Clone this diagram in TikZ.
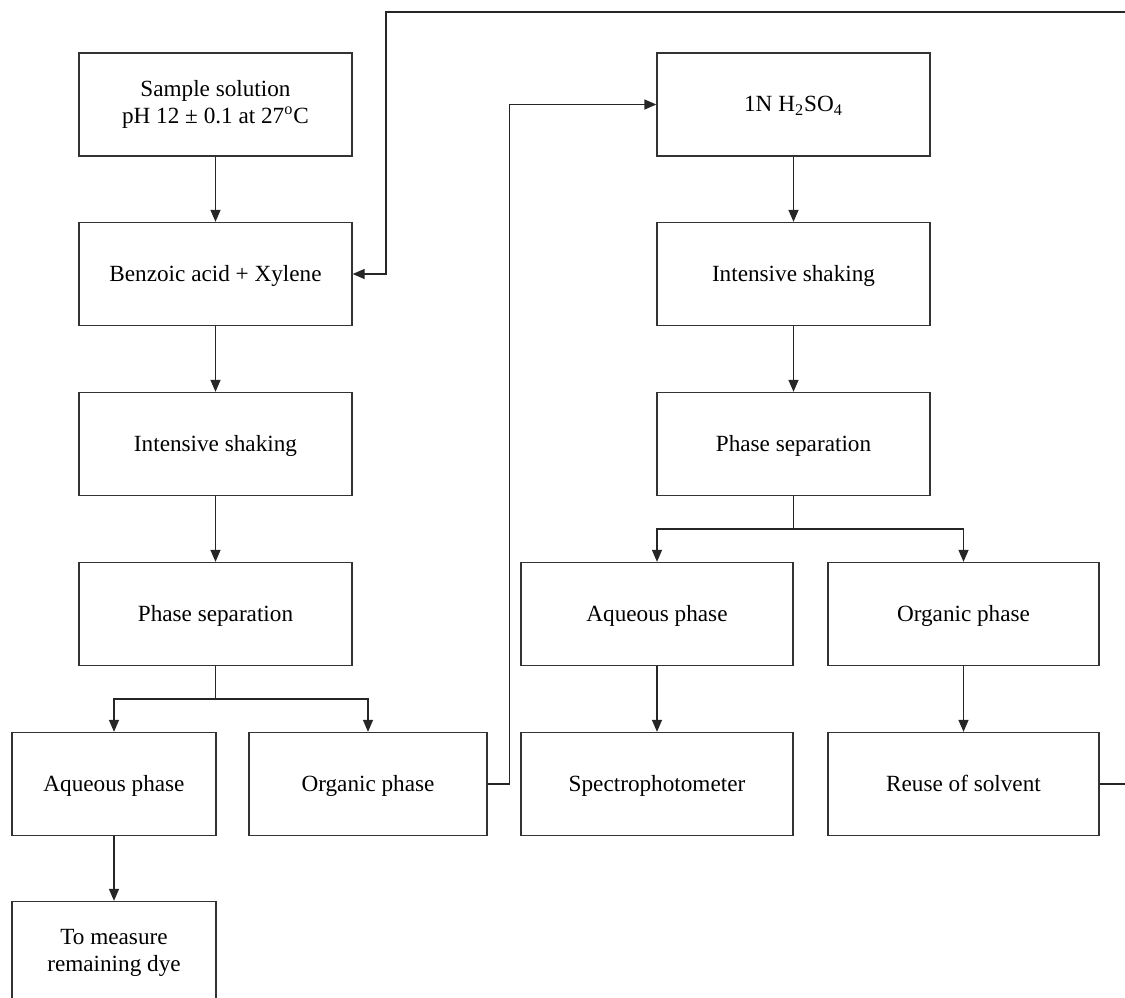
\documentclass[tikz,border=0pt]{standalone}
\usepackage{fontspec}
\setmainfont{Liberation Serif}
\usetikzlibrary{arrows.meta}

\tikzset{
	stepbox/.style={draw=black!80, line width=0.65pt, minimum height=51.5pt, align=center,
		font=\fontsize{11.6}{13.5}\selectfont, inner sep=0pt},
	onebox/.style={stepbox, text height=10pt, text depth=3pt},
	flow/.style={draw=black!85, line width=0.65pt, -{Triangle[length=6pt,width=5pt]}},
	link/.style={draw=black!85, line width=0.65pt}
}

\begin{document}
\begin{tikzpicture}[x=0.5pt, y=-0.5pt]
		
		\useasboundingbox (0,0) rectangle (1125,997);
		\clip (0,0) rectangle (1125,997);
		
		\node[stepbox, minimum width=136.5pt] (sample) at (215.5,104.5) {Sample solution\\pH 12 ± 0.1 at 27\textsuperscript{o}C};
		\node[onebox, minimum width=136.5pt] (benzoic) at (215.5,274) {Benzoic acid + Xylene};
		\node[onebox, minimum width=136.5pt] (shakeL) at (215.5,444) {Intensive shaking};
		\node[onebox, minimum width=136.5pt] (sepL) at (215.5,614) {Phase separation};
		\node[onebox, minimum width=102pt] (aqL) at (114,784) {Aqueous phase};
		\node[onebox, minimum width=119pt] (orgL) at (368,784) {Organic phase};
		\node[stepbox, minimum width=102pt] (measure) at (114,953) {To measure\\remaining dye};
		
		\node[onebox, minimum width=136.5pt] (acid) at (793.5,104.5) {1N H\textsubscript{2}SO\textsubscript{4}};
		\node[onebox, minimum width=136.5pt] (shakeR) at (793.5,274) {Intensive shaking};
		\node[onebox, minimum width=136.5pt] (sepR) at (793.5,444) {Phase separation};
		\node[onebox, minimum width=136pt] (aqR) at (657,614) {Aqueous phase};
		\node[onebox, minimum width=135.5pt] (orgR) at (963.5,614) {Organic phase};
		\node[onebox, minimum width=136pt] (spectro) at (657,784) {Spectrophotometer};
		\node[onebox, minimum width=135.5pt] (reuse) at (963.5,784) {Reuse of solvent};
		
		\coordinate (splitL) at (215.5,699);
		\coordinate (splitR) at (793.5,529);
		\coordinate (topR) at (1128,12);
		\coordinate (topL) at (386,12);
		
		\draw[flow] (sample) -- (benzoic);
		\draw[flow] (benzoic) -- (shakeL);
		\draw[flow] (shakeL) -- (sepL);
		\draw[link] (sepL) -- (splitL);
		\draw[flow] (splitL) -| (aqL);
		\draw[flow] (splitL) -| (orgL);
		\draw[flow] (aqL) -- (measure);
		
		\draw[flow] (orgL.east) -- ++(22,0) |- (acid.west);
		
		\draw[flow] (acid) -- (shakeR);
		\draw[flow] (shakeR) -- (sepR);
		\draw[link] (sepR) -- (splitR);
		\draw[flow] (splitR) -| (aqR);
		\draw[flow] (splitR) -| (orgR);
		\draw[flow] (aqR) -- (spectro);
		\draw[flow] (orgR) -- (reuse);
		
		\draw[flow] (reuse.east) -| (topR) -- (topL) |- (benzoic.east);
		
	\end{tikzpicture}
\end{document}
